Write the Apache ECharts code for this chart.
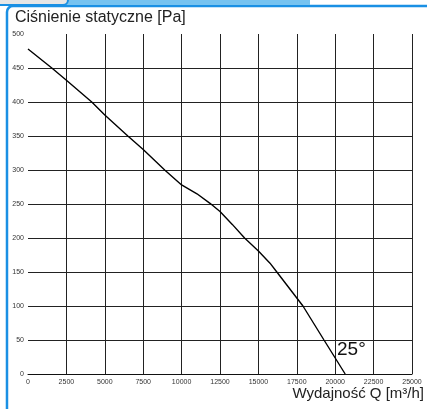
<!DOCTYPE html>
<html><head><meta charset="utf-8">
<script src="https://cdn.jsdelivr.net/npm/echarts@6/dist/echarts.min.js"></script>
<style>html,body{margin:0;padding:0;background:#fff}#c{width:427px;height:409px}</style>
</head><body><div id="c"></div>
<script>
const flowQ = [0,1550,2500,4150,5000,6500,7500,8900,10000,11000,11850,12500,13300,14100,15000,15755,16200,17900,19270,20650];
const pressure = [478,450,432,400,381,350,330,300,278,265,251,239,220,200,181,163,150,100,50,0];
const xTicks = ['0','2500','5000','7500','10000','12500','15000','17500','20000','22500','25000'];
const yTicks = ['0','50','100','150','200','250','300','350','400','450','500'];
const titleText = 'Ciśnienie statyczne [Pa]';
const xName = 'Wydajność Q [m³/h]';
const angleText = '25°';

const chart = echarts.init(document.getElementById('c'), null, {renderer:'canvas'});
const gridCol = '#222';
const xLineColors = xTicks.map((t,i)=> i===0 ? 'rgba(0,0,0,0)' : gridCol);
const yLineColors = yTicks.map((t,i)=> (i===0 || i===yTicks.length-1) ? 'rgba(0,0,0,0)' : gridCol);
chart.setOption({
  animation:false,
  backgroundColor:'#fff',
  grid:{left:28,right:15,top:34,bottom:35},
  xAxis:{type:'value',min:0,max:25000,interval:2500,
    axisLine:{show:true,lineStyle:{color:'#111',width:1}},
    axisTick:{show:false},
    axisLabel:{fontSize:7,color:'#333',margin:5,fontFamily:'Liberation Sans, Arial',
      formatter:(v)=>xTicks[Math.round(v/2500)]},
    splitLine:{show:true,lineStyle:{color:xLineColors,width:1}}},
  yAxis:{type:'value',min:0,max:500,interval:50,
    axisLine:{show:false},axisTick:{show:false},
    axisLabel:{fontSize:7,color:'#333',margin:4,fontFamily:'Liberation Sans, Arial',
      formatter:(v)=>yTicks[Math.round(v/50)]},
    splitLine:{show:true,lineStyle:{color:yLineColors,width:1}}},
  series:[{type:'line',data:flowQ.map((q,i)=>[q,pressure[i]]),showSymbol:false,
    lineStyle:{color:'#000',width:1.4},smooth:false}],
  graphic:[
    {type:'rect',z:10,shape:{x:7,y:6,width:440,height:420,r:6},style:{fill:'none',stroke:'#1a90e4',lineWidth:2.5}},
    {type:'rect',z:11,shape:{x:60,y:-2,width:250,height:7},style:{fill:'#76c3f0'}},
    {type:'rect',z:12,shape:{x:-6,y:-6,width:74,height:11,r:5},style:{fill:'#e6e6e6',stroke:'#1a90e4',lineWidth:2}},
    {type:'text',z:20,left:15,top:10,style:{text:titleText,fontSize:16,fill:'#222',fontFamily:'Liberation Sans, Arial'}},
    {type:'text',z:20,right:3,top:386,style:{text:xName,fontSize:15,fill:'#222',fontFamily:'Liberation Sans, Arial'}},
    {type:'text',z:20,left:337,top:340,style:{text:angleText,fontSize:19,fill:'#111',fontFamily:'Liberation Sans, Arial'}}
  ]
});
</script></body></html>
